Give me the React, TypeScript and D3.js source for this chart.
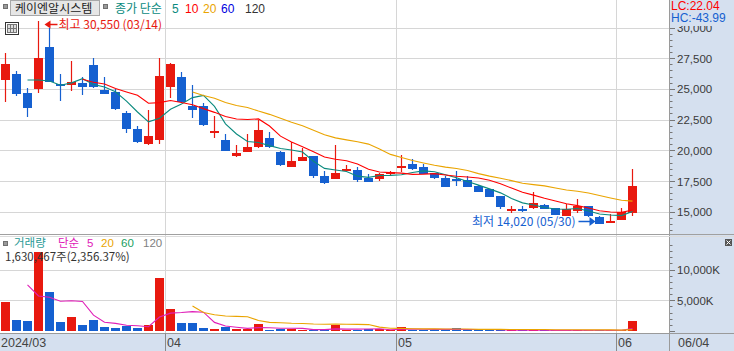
import React from 'react';
import * as d3 from 'd3';

// ---------- data ----------
const dates = [
  '03/11','03/12','03/13','03/14','03/15','03/18','03/19','03/20','03/21','03/22','03/25','03/26','03/27','03/28','03/29',
  '04/01','04/02','04/03','04/04','04/05','04/08','04/09','04/11','04/12','04/15','04/16','04/17','04/18','04/19','04/22','04/23','04/24','04/25','04/26','04/29','04/30',
  '05/02','05/03','05/07','05/08','05/09','05/10','05/13','05/14','05/16','05/17','05/20','05/21','05/22','05/23','05/24','05/27','05/28','05/29','05/30','05/31',
  '06/03','06/04'
];
const opens = [
  25730,26200,24650,25000,28400,25400,25350,25500,26950,24900,24750,23050,21750,20500,20850,
  25150,25950,23600,23600,21400,20850,19540,19870,20250,21000,19870,18650,19130,19540,17910,17670,18400,18400,17750,17670,18080,
  18560,18890,18650,18160,17750,17670,17590,17100,16880,16280,15170,15250,15330,15530,15330,14680,15090,15470,14600,14080,
  14300,14880
];
const highs = [
  27950,26450,25050,30550,29950,26200,27250,25950,27500,25950,25000,23200,22000,23300,27500,
  27100,26400,25300,23850,22800,21350,20450,21350,22450,21500,19950,20700,20200,19540,18320,20450,18810,18650,18080,18160,18320,
  19620,19300,18890,18160,17910,18320,17910,17180,16880,16280,15490,15490,16590,15660,15330,15660,16010,15470,14650,14840,
  15280,18480
];
const lows = [
  23950,24400,22750,24700,25550,24000,24850,24500,25050,24550,23300,21400,20600,20450,20500,
  24250,23850,22650,21950,21000,19950,19480,19870,20200,20200,18730,18650,19100,17750,17260,17670,18320,17420,17400,17500,17910,
  18240,18400,18080,17670,16990,17100,16990,16590,16230,15250,14920,15000,15250,15250,14700,14680,14920,14570,14020,14060,
  14300,14660
];
const closes = [
  27050,24600,23450,27550,25600,25300,25550,25150,25150,24600,23400,21750,20700,21150,26050,
  27050,23900,23300,22050,21550,19970,19780,20250,21650,20250,18810,19130,19460,17910,17340,18160,18480,17590,17420,18080,18240,
  18730,18480,18080,17750,16990,17500,16990,16590,16230,15360,15250,15170,15690,15250,14710,15200,15470,14660,14020,14280,
  14980,17110
];
// thousands of shares
const volumes = [
  4720,1790,1630,12900,6350,1470,2280,980,1790,650,490,820,490,980,8630,
  3580,1300,1300,490,330,650,330,330,1140,160,330,330,160,160,100,980,160,160,250,250,150,
  650,200,200,150,250,490,150,150,120,150,100,100,150,80,100,100,130,100,120,69,
  69,1630
];
const priorCloses = [27540, 26000];
const priorVolumes = [21870, 7450];
const priceTicks = [15000, 17500, 20000, 22500, 25000, 27500, 30000];
const volumeTicks = [5000, 10000];
const priceMAPeriods = [5, 10, 20];
const volumeMAPeriods = [5, 20];
const lcText = 'LC:22.04';
const hcText = 'HC:-43.99';
const lastVolumeText = '1,630,467주(2,356.37%)';

// ---------- layout ----------
const W = 734;
const H = 351;
const PR = 669; // plot right edge
const PRICE_BOTTOM = 234.5;
const VOL_BOTTOM = 333.5;

const UP = '#e8190f';
const DOWN = '#1560d0';
const AXIS_BG = '#d5e0ef';
const GRID = '#d6d6d6';
const NUMF = "'Liberation Sans', Arial, sans-serif";
const KRF = "'Noto Sans CJK KR', 'Noto Sans', sans-serif";

function sma(arr: number[], n: number): (number | null)[] {
  return arr.map((_, i) => (i >= n - 1 ? (d3.mean(arr.slice(i - n + 1, i + 1)) as number) : null));
}

export default function App() {
  const n = closes.length;
  const xb = d3.scaleBand<number>().domain(d3.range(n)).range([0, 11 * n]).paddingInner(2 / 11).paddingOuter(1 / 11);
  const cx = (i: number) => (xb(i) as number) + xb.bandwidth() / 2;
  const yP = d3.scaleLinear().domain([15000, 30000]).range([211.7, 27.5]);
  const yV = d3.scaleLinear().domain([0, 10000]).range([331, 269.5]);

  const fullC = priorCloses.concat(closes);
  const fullV = priorVolumes.concat(volumes);
  const priceMA = priceMAPeriods.map((p) => sma(fullC, p).slice(priorCloses.length));
  const volMA = volumeMAPeriods.map((p) => sma(fullV, p).slice(priorVolumes.length));
  const priceMAColors = ['#0a8a7e', '#ff0000', '#eaa400'];
  const volMAColors = ['#e020b8', '#eaa400'];

  const lineP = d3.line<number | null>().defined((d) => d != null).x((_, i) => cx(i)).y((d) => yP(d as number));
  const lineV = d3.line<number | null>().defined((d) => d != null).x((_, i) => cx(i)).y((d) => yV(d as number));

  const monthStarts: number[] = [];
  dates.forEach((d, i) => {
    if (i > 0 && d.slice(0, 2) !== dates[i - 1].slice(0, 2)) monthStarts.push(i);
  });
  const boundaryX = (i: number) => Math.round((xb(i) as number) - 1) + 0.5;

  const fmt = d3.format(',');
  const hiIdx = d3.maxIndex(highs);
  const loIdx = d3.minIndex(lows);

  const priceMinor = d3.range(13000, 31001, 500).filter((v) => yP(v) > 25 && yP(v) < 232);
  const volMinor = d3.range(0, 15001, 1000).filter((v) => yV(v) > 239 && yV(v) <= 331);

  return (
    <svg width={W} height={H} style={{ position: 'absolute', left: 0, top: 0, background: '#fff' }}>
      <defs>
        <clipPath id="pclip"><rect x={0} y={0} width={PR} height={PRICE_BOTTOM} /></clipPath>
        <clipPath id="vclip"><rect x={0} y={PRICE_BOTTOM + 1} width={PR} height={VOL_BOTTOM - PRICE_BOTTOM - 1} /></clipPath>
      </defs>
      <rect x={0} y={0} width={W} height={H} fill="#fff" />

      {/* grid */}
      {priceTicks.map((t) => (
        <line key={'pg' + t} x1={0} x2={PR} y1={Math.round(yP(t)) + 0.5} y2={Math.round(yP(t)) + 0.5} stroke={GRID} />
      ))}
      {volumeTicks.map((t) => (
        <line key={'vg' + t} x1={0} x2={PR} y1={Math.round(yV(t)) + 0.5} y2={Math.round(yV(t)) + 0.5} stroke={GRID} />
      ))}
      {monthStarts.map((i) => (
        <line key={'mg' + i} x1={boundaryX(i)} x2={boundaryX(i)} y1={0} y2={VOL_BOTTOM} stroke={GRID} />
      ))}

      {/* volume */}
      <g clipPath="url(#vclip)">
        {volumes.map((v, i) => {
          const y0 = Math.round(yV(0));
          const y1 = Math.round(yV(v));
          return (
            <rect key={'v' + i} x={xb(i)} y={Math.min(y1, y0 - 1)} width={xb.bandwidth()} height={Math.max(1, y0 - y1)}
              fill={closes[i] >= opens[i] ? UP : DOWN} />
          );
        })}
        {volMA.map((s, k) => (
          <path key={'vma' + k} d={lineV(s) || ''} fill="none" stroke={volMAColors[k]} strokeWidth={1.1} />
        ))}
      </g>

      {/* candles */}
      <g clipPath="url(#pclip)">
        {closes.map((c, i) => {
          const o = opens[i];
          const col = c >= o ? UP : DOWN;
          const yt = Math.round(yP(Math.max(o, c)));
          const yb = Math.round(yP(Math.min(o, c)));
          const x = cx(i);
          return (
            <g key={'c' + i}>
              <line x1={x} x2={x} y1={Math.round(yP(highs[i]))} y2={Math.round(yP(lows[i]))} stroke={col} strokeWidth={1.2} />
              <rect x={xb(i)} y={yt} width={xb.bandwidth()} height={Math.max(2, yb - yt)} fill={col} />
            </g>
          );
        })}
        {priceMA.map((s, k) => (
          <path key={'pma' + k} d={lineP(s) || ''} fill="none" stroke={priceMAColors[k]} strokeWidth={1.1} />
        ))}
      </g>

      {/* high / low annotations */}
      <g>
        <line x1={cx(hiIdx) + 10} x2={cx(hiIdx) + 19} y1={Math.round(yP(highs[hiIdx])) + 3.5} y2={Math.round(yP(highs[hiIdx])) + 3.5} stroke={UP} strokeWidth={1.5} />
        <path d={`M${cx(hiIdx) + 6},${Math.round(yP(highs[hiIdx])) + 3.5} l6,-4 v8 z`} fill={UP} />
        <text x={cx(hiIdx) + 20} y={Math.round(yP(highs[hiIdx])) + 8} fontFamily={KRF} fontSize={12} fill={UP}>
          {`최고 ${fmt(highs[hiIdx])} (${dates[hiIdx]})`}
        </text>
        <line x1={cx(loIdx) - 21} x2={cx(loIdx) - 9} y1={Math.round(yP(lows[loIdx])) - 2.5} y2={Math.round(yP(lows[loIdx])) - 2.5} stroke={DOWN} strokeWidth={1.5} />
        <path d={`M${cx(loIdx) - 4},${Math.round(yP(lows[loIdx])) - 2.5} l-6,-4.5 v9 z`} fill={DOWN} />
        <text x={cx(loIdx) - 24} y={Math.round(yP(lows[loIdx])) + 2} fontFamily={KRF} fontSize={12} fill={DOWN} textAnchor="end">
          {`최저 ${fmt(lows[loIdx])} (${dates[loIdx]})`}
        </text>
      </g>

      {/* top-left legend */}
      <rect x={3.5} y={4.5} width={4} height={4} fill="#9a9a9a" stroke="#707070" />
      <rect x={10.5} y={0.5} width={89} height={15} fill="#e6e6e6" stroke="#a8a8a8" />
      <text x={15} y={13} fontFamily={KRF} fontSize={12} fill="#222">케이엔알시스템</text>
      <rect x={103.5} y={4.5} width={4} height={4} fill="#9a9a9a" stroke="#707070" />
      <text x={115} y={13} fontFamily={KRF} fontSize={12} fill="#0a8a7e">종가 단순</text>
      <text x={172} y={13} fontFamily={NUMF} fontSize={12} fill="#0a8a7e">5</text>
      <text x={185} y={13} fontFamily={NUMF} fontSize={12} fill="#ff0000">10</text>
      <text x={203} y={13} fontFamily={NUMF} fontSize={12} fill="#eaa400">20</text>
      <text x={221} y={13} fontFamily={NUMF} fontSize={12} fill="#0000e0">60</text>
      <text x={245} y={13} fontFamily={NUMF} fontSize={12} fill="#333">120</text>
      {/* table icon */}
      <rect x={5.5} y={22.5} width={13} height={12} fill="#fff" stroke="#333" />
      <rect x={7.5} y={24.5} width={9} height={8} fill="#ddd" stroke="#777" />
      <line x1={10.5} x2={10.5} y1={24.5} y2={32.5} stroke="#777" />
      <line x1={13.5} x2={13.5} y1={24.5} y2={32.5} stroke="#777" />
      <line x1={7.5} x2={16.5} y1={28.5} y2={28.5} stroke="#777" />

      {/* volume legend */}
      <rect x={3.5} y={241.5} width={4} height={4} fill="#9a9a9a" stroke="#707070" />
      <text x={14} y={247} fontFamily={KRF} fontSize={11.5} fill="#2a9a96">거래량</text>
      <text x={58} y={247} fontFamily={KRF} fontSize={11.5} fill="#e020b8">단순</text>
      <text x={87} y={247} fontFamily={NUMF} fontSize={11.5} fill="#e020b8">5</text>
      <text x={101} y={247} fontFamily={NUMF} fontSize={11.5} fill="#eaa400">20</text>
      <text x={121} y={247} fontFamily={NUMF} fontSize={11.5} fill="#20a060">60</text>
      <text x={143} y={247} fontFamily={NUMF} fontSize={11.5} fill="#808080">120</text>
      <text x={5} y={261} fontFamily={KRF} fontSize={11.5} fill="#333">{lastVolumeText}</text>

      {/* right axis panel */}
      <rect x={PR} y={0} width={W - PR} height={H} fill={AXIS_BG} />
      <line x1={PR + 0.5} x2={PR + 0.5} y1={0} y2={H} stroke="#9a9a9a" />
      {priceMinor.map((v) => (
        <line key={'pt' + v} x1={PR + 1} x2={PR + (v % 2500 === 0 ? 6 : 3.5)} y1={Math.round(yP(v)) + 0.5} y2={Math.round(yP(v)) + 0.5} stroke="#777" />
      ))}
      {priceTicks.map((t) => (
        <text key={'pl' + t} x={677} y={yP(t) + 4.5} fontFamily={NUMF} fontSize={11.5} fill="#3a3a3a">{fmt(t)}</text>
      ))}
      {volMinor.map((v) => (
        <line key={'vt' + v} x1={PR + 1} x2={PR + (v % 5000 === 0 ? 6 : 3.5)} y1={Math.round(yV(v)) + 0.5} y2={Math.round(yV(v)) + 0.5} stroke="#777" />
      ))}
      {volumeTicks.map((t) => (
        <text key={'vl' + t} x={677} y={yV(t) + 4.5} fontFamily={NUMF} fontSize={11.5} fill="#3a3a3a">{`${fmt(t)}K`}</text>
      ))}
      {/* cover over top of axis, LC/HC */}
      <rect x={PR + 1} y={0} width={W - PR - 1} height={26} fill={AXIS_BG} />
      <text x={671} y={10} fontFamily={NUMF} fontSize={12} fill="#ff0000">{lcText}</text>
      <text x={671} y={22} fontFamily={NUMF} fontSize={12} fill="#1560d0">{hcText}</text>
      {/* close icon on volume panel */}
      <rect x={725} y={239} width={7} height={7} fill="#555" />
      <path d="M726.5,240.5 l4,4 M730.5,240.5 l-4,4" stroke="#fff" strokeWidth={1} />

      {/* panel separators */}
      <line x1={0} x2={W} y1={PRICE_BOTTOM} y2={PRICE_BOTTOM} stroke="#a0a0a0" />
      <line x1={0} x2={W} y1={PRICE_BOTTOM + 2} y2={PRICE_BOTTOM + 2} stroke="#dcdcdc" />
      <rect x={0} y={VOL_BOTTOM} width={W} height={H - VOL_BOTTOM} fill={AXIS_BG} />
      <line x1={0} x2={W} y1={VOL_BOTTOM} y2={VOL_BOTTOM} stroke="#9a9a9a" />
      <line x1={PR + 0.5} x2={PR + 0.5} y1={VOL_BOTTOM} y2={H} stroke="#9a9a9a" />

      {/* date axis */}
      <text x={1} y={347} fontFamily={NUMF} fontSize={12.5} fill="#444">{`2024/${dates[0].slice(0, 2)}`}</text>
      {monthStarts.map((i) => (
        <g key={'ml' + i}>
          <line x1={boundaryX(i)} x2={boundaryX(i)} y1={VOL_BOTTOM} y2={H} stroke="#8a8a8a" />
          <text x={boundaryX(i) + 1.5} y={347} fontFamily={NUMF} fontSize={12.5} fill="#444">{dates[i].slice(0, 2)}</text>
        </g>
      ))}
      <text x={678} y={347} fontFamily={NUMF} fontSize={12.5} fill="#444">{dates[n - 1]}</text>
    </svg>
  );
}
